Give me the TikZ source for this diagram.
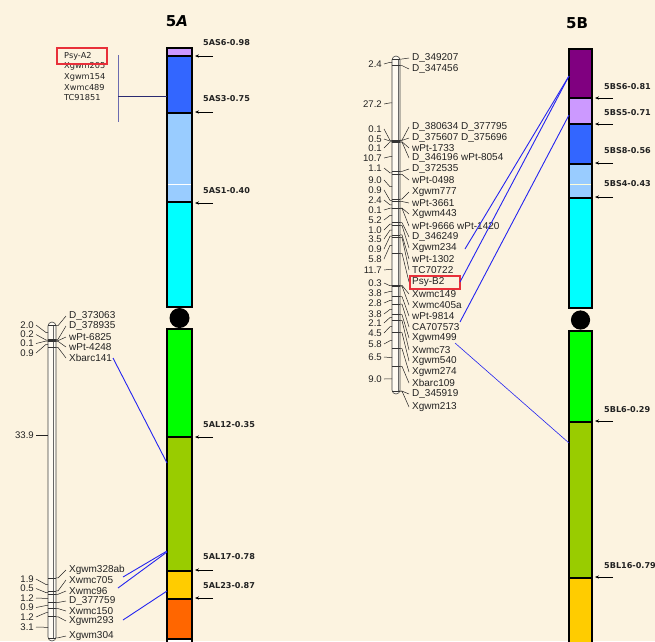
\documentclass[tikz,border=0pt]{standalone}
\usepackage{fontspec}
\setmainfont{Liberation Sans}
\newfontfamily\djv{DejaVu Sans}
\usetikzlibrary{arrows.meta}
\definecolor{bg}{RGB}{252,243,224}
\definecolor{txt}{RGB}{34,34,34}
\definecolor{lilac}{HTML}{CC99FF}
\definecolor{cblue}{HTML}{3366FF}
\definecolor{lblue}{HTML}{99CCFF}
\definecolor{ccyan}{HTML}{00FFFF}
\definecolor{cgreen}{HTML}{00FF00}
\definecolor{ygreen}{HTML}{99CC00}
\definecolor{cyellow}{HTML}{FFCC00}
\definecolor{corange}{HTML}{FF6600}
\definecolor{cpurple}{HTML}{800080}
\definecolor{lnblue}{HTML}{2424F0}
\definecolor{boxred}{HTML}{E8303A}
\definecolor{slate}{HTML}{6B6BB0}
\definecolor{navy}{HTML}{2A2A70}
\definecolor{barfill}{HTML}{FFFBF2}
\begin{document}
\begin{tikzpicture}[x=1pt,y=-1pt,
  chr/.style={draw=black, line width=2pt},
  mlabel/.style={anchor=west, inner sep=0pt, text=txt, font=\fontsize{10}{12}\selectfont},
  nlabel/.style={anchor=east, inner sep=0pt, text=txt, font=\fontsize{9.6}{11}\selectfont},
  llabel/.style={anchor=west, inner sep=0pt, text=txt, font=\djv\fontsize{8.2}{10}\selectfont},
  binlabel/.style={anchor=west, inner sep=0pt, text=txt, font=\djv\bfseries\fontsize{8.1}{9}\selectfont},
  title/.style={inner sep=0pt, text=black, font=\djv\bfseries\fontsize{15}{18}\selectfont},
  tickline/.style={draw=txt, line width=0.5pt},
  markline/.style={draw=black!80, line width=0.6pt},
  maparrow/.style={-{Stealth[length=4pt,width=3.2pt]}, line width=0.7pt, black},
  greyarrow/.style={-{Stealth[length=4pt,width=3.2pt]}, line width=0.7pt, draw=gray, color=black},
  mapbar/.style={draw=black!75, fill=barfill, line width=0.6pt, rounded corners=4pt},
  conn/.style={draw=lnblue, line width=0.9pt},
]
\useasboundingbox (0,0) rectangle (655,641);
\clip (0,0) rectangle (655,641);
\fill[bg] (0,0) rectangle (655,641);

% ---------------- titles
\node[title] (t5A) at (177,21) {5\itshape A};
\node[title] (t5B) at (577,23) {5B};

% ---------------- chromosome 5A
\filldraw[chr, fill=lilac]   (167,48)  rectangle (192,56);
\filldraw[chr, fill=cblue]   (167,56)  rectangle (192,113);
\filldraw[chr, fill=lblue]   (167,113) rectangle (192,202);
\draw[white, line width=0.7pt] (168.2,184) -- (190.8,184);
\filldraw[chr, fill=ccyan]   (167,202) rectangle (192,307);
\fill[black] (179.5,318) circle (10);
\filldraw[chr, fill=cgreen]  (167,329) rectangle (192,437);
\filldraw[chr, fill=ygreen]  (167,437) rectangle (192,571);
\filldraw[chr, fill=cyellow] (167,571) rectangle (192,599);
\filldraw[chr, fill=corange] (167,599) rectangle (192,639);
\filldraw[chr, fill=white]   (167,639) rectangle (192,660);

% bin labels 5A
\foreach \k/\t/\ly/\ay/\st in {1/5AS6-0.98/43/56/maparrow, 2/5AS3-0.75/99/112/maparrow, 3/5AS1-0.40/191/203/maparrow,
  4/5AL12-0.35/425/437/greyarrow, 5/5AL17-0.78/557/570/greyarrow, 6/5AL23-0.87/586/598/greyarrow}{
  \node[binlabel] (a\k) at (203,\ly) {\t};
  \coordinate (aa\k) at (213,\ay);
  \coordinate (ab\k) at (195,\ay);
  \draw[\st] (aa\k) -- (ab\k);
}

% ---------------- chromosome 5B
\filldraw[chr, fill=cpurple] (569,49)  rectangle (592,98);
\filldraw[chr, fill=lilac]   (569,98)  rectangle (592,124);
\filldraw[chr, fill=cblue]   (569,124) rectangle (592,164);
\filldraw[chr, fill=lblue]   (569,164) rectangle (592,198);
\draw[white!85!yellow, line width=0.7pt] (570.2,184) -- (590.8,184);
\filldraw[chr, fill=ccyan]   (569,198) rectangle (592,308);
\fill[black] (580.5,320) circle (9.6);
\filldraw[chr, fill=cgreen]  (569,331) rectangle (592,422);
\filldraw[chr, fill=ygreen]  (569,422) rectangle (592,578);
\filldraw[chr, fill=cyellow] (569,578) rectangle (592,660);

\foreach \k/\t/\ly/\ay/\st in {1/5BS6-0.81/87/98/maparrow, 2/5BS5-0.71/113/124/maparrow, 3/5BS8-0.56/151/163/greyarrow,
  4/5BS4-0.43/184/197/maparrow, 5/5BL6-0.29/410/421/greyarrow, 6/5BL16-0.79/566/577/greyarrow}{
  \node[binlabel] (b\k) at (604,\ly) {\t};
  \coordinate (ba\k) at (613,\ay);
  \coordinate (bb\k) at (595,\ay);
  \draw[\st] (ba\k) -- (bb\k);
}

% ---------------- top-left marker list (5A short arm)
\node[llabel] (pa1) at (64,56) {Psy-A2};
\node[llabel] (pa2) at (64,66) {Xgwm205};
\node[llabel] (pa3) at (64,77) {Xgwm154};
\node[llabel] (pa4) at (64,88) {Xwmc489};
\node[llabel] (pa5) at (64,98) {TC91851};
\draw[boxred, line width=1.1pt] (57,48) rectangle (107,64);
\coordinate (vt) at (118,55);
\coordinate (vb) at (118,122);
\coordinate (vm) at (118,96);
\coordinate (cA) at (167,96);
\draw[slate, line width=1pt] (vt) -- (vb);
\draw[navy, line width=0.8pt] (vm) -- (cA);

% ---------------- left genetic map (5A)
\draw[mapbar] (48,322) rectangle (56,641);
\draw[black!60, line width=0.4pt] (53.5,326) -- (53.5,638);
\foreach \c in {0,2.0,2.2,2.3,3.2,37.1,39.0,39.5,40.7,41.6,42.8,45.9}
  \draw[markline] (48,{325.7+6.8*\c}) -- (56,{325.7+6.8*\c});
\foreach \i/\t/\c/\ly in {1/D\_373063/0/316, 2/D\_378935/2.0/326, 3/wPt-6825/2.2/337, 4/wPt-4248/2.3/347,
  5/Xbarc141/3.2/358, 6/Xgwm328ab/37.1/570, 7/Xwmc705/39.0/580, 8/Xwmc96/39.5/591, 9/D\_377759/40.7/601,
  10/Xwmc150/41.6/611, 11/Xgwm293/42.8/621, 12/Xgwm304/45.9/636}{
  \node[mlabel] (L\i) at (69,\ly) {\t};
  \coordinate (Lm\i) at (56,{325.7+6.8*\c});
  \draw[tickline] (Lm\i) -- ++(2,0) -- ([xshift=-3pt]L\i.west);
}
\foreach \t/\m/\ny [count=\k] in {2.0/332.5/325, 0.2/340.0/334.5, 0.1/341.0/343.5, 0.9/344.4/353, 33.9/435/435,
  1.9/584.5/579, 0.5/592.6/588.5, 1.2/598.4/598, 0.9/605.5/607.5, 1.2/612.7/617, 3.1/627.3/627}{
  \node[nlabel] (LN\k) at (34,\ny) {\t};
  \draw[tickline] ([xshift=2pt]LN\k.east) -- (46,\m) -- (48,\m);
}

% ---------------- middle genetic map (5B)
\draw[mapbar] (392,56) rectangle (400,394);
\draw[black!60, line width=0.4pt] (397.7,60) -- (397.7,391);
\foreach \c in {0,2.4,29.6,29.7,30.2,30.3,41.0,42.1,51.1,52.0,54.4,54.5,59.7,60.7,64.2,65.1,70.9,82.6,82.9,86.7,89.5,93.3,95.4,99.9,105.7,112.2,121.2}
  \draw[markline] (392,{59+2.74*\c}) -- (400,{59+2.74*\c});
\foreach \i/\t/\c/\ly in {
1/D\_349207/0/58, 2/D\_347456/2.4/69, 3/D\_380634 D\_377795/29.6/127, 4/D\_375607 D\_375696/29.7/138,
5/wPt-1733/30.2/148, 6/D\_346196 wPt-8054/30.3/158, 7/D\_372535/41.0/169, 8/wPt-0498/42.1/180,
9/Xgwm777/51.1/192, 10/wPt-3661/52.0/203, 11/Xgwm443/54.4/214, 12/wPt-9666 wPt-1420/54.5/226,
13/D\_346249/59.7/237, 14/Xgwm234/60.7/248, 15/wPt-1302/64.2/259, 16/TC70722/65.1/270,
17/Psy-B2/70.9/282, 18/Xwmc149/82.6/294, 19/Xwmc405a/82.9/305, 20/wPt-9814/86.7/316,
21/CA707573/89.5/327, 22/Xgwm499/93.3/338, 23/Xwmc73/95.4/350, 24/Xgwm540/99.9/361,
25/Xgwm274/105.7/372, 26/Xbarc109/112.2/383, 27/D\_345919/121.2/394, 28/Xgwm213/121.2/407}{
  \node[mlabel] (M\i) at (412,\ly) {\t};
  \coordinate (Mm\i) at (400,{59+2.74*\c});
  \draw[tickline] (Mm\i) -- ++(2,0) -- ([xshift=-3pt]M\i.west);
}
\foreach \t/\m/\ny [count=\k] in {2.4/62.3/64, 27.2/102.9/104, 0.1/140.25/129, 0.5/141.05/139, 0.1/141.85/148,
  10.7/156.6/158, 1.1/172.9/168, 9.0/186.7/180, 0.9/200.3/190, 2.4/204.8/200, 0.1/208.2/210, 5.2/215.4/220,
  1.0/224.0/230, 3.5/230.1/239, 0.9/236.2/249, 5.8/245.4/259, 11.7/269.3/270, 0.3/285.7/283, 3.8/291.4/293,
  2.8/300.4/303, 3.8/309.4/314, 2.1/317.5/323, 4.5/326.6/333, 5.8/340.7/344, 6.5/357.5/357, 9.0/378.8/379}{
  \node[nlabel] (MN\k) at (382,\ny) {\t};
  \draw[tickline] ([xshift=2pt]MN\k.east) -- (390,\m) -- (392,\m);
}
\draw[boxred, line width=1.1pt] (410,276) rectangle (460,289);

% ---------------- blue connectors
\coordinate (s1) at (113,358);  \coordinate (e1) at (167,463);
\coordinate (s2) at (123,577);  \coordinate (e2) at (167,551);
\coordinate (s3) at (118,588);  \coordinate (e3) at (167,552);
\coordinate (s4) at (123,620);  \coordinate (e4) at (167,591);
\draw[conn] (s1) -- (e1);
\draw[conn] (s2) -- (e2);
\draw[conn] (s3) -- (e3);
\draw[conn] (s4) -- (e4);
\coordinate (s5) at (465,249);  \coordinate (e5) at (569,76);
\coordinate (s6) at (460,282);
\coordinate (s7) at (460,322);  \coordinate (e7) at (569,115);
\coordinate (s8) at (455,343);  \coordinate (e8) at (569,443);
\draw[conn] (s5) -- (e5);
\draw[conn] (s6) -- (e5);
\draw[conn] (s7) -- (e7);
\draw[conn, line width=0.6pt] (s8) -- (e8);
\end{tikzpicture}
\end{document}
